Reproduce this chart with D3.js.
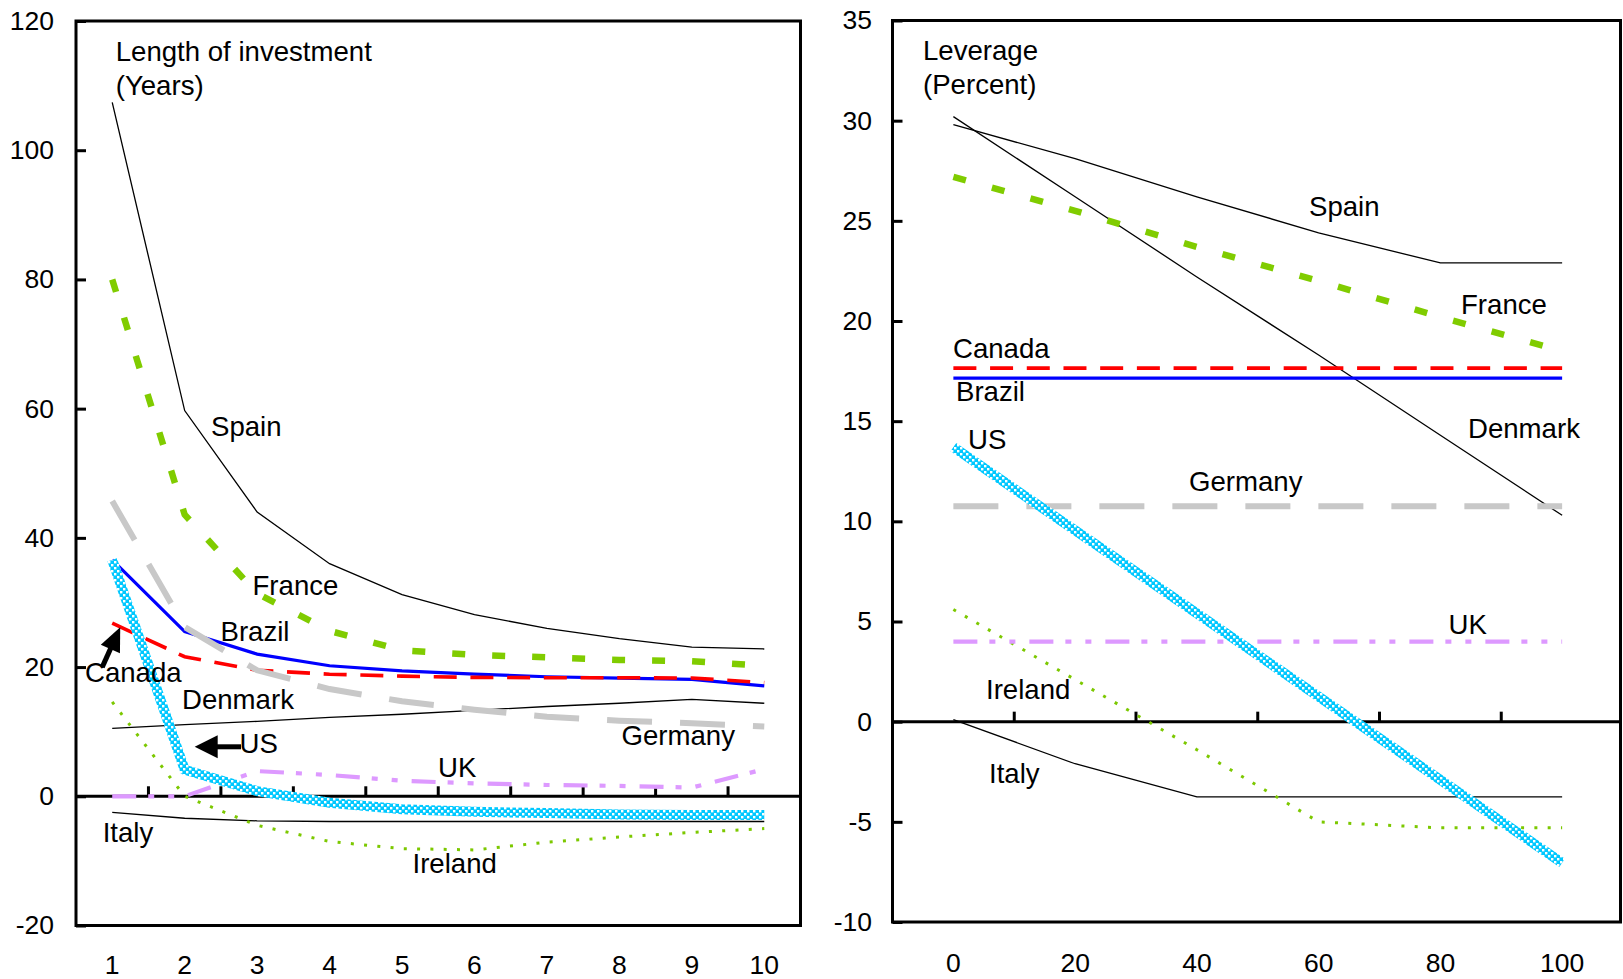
<!DOCTYPE html>
<html><head><meta charset="utf-8">
<script src="https://cdn.jsdelivr.net/npm/d3@7"></script>
<style>
html,body{margin:0;padding:0;background:#fff;}
svg{display:block;font-family:"Liberation Sans",Arial,sans-serif;}
</style></head>
<body>
<svg id="chart" width="1623" height="979"></svg>
<script>
// ---------- DATA ----------
const leftCats = [1,2,3,4,5,6,7,8,9,10];
const leftYTicks = [-20,0,20,40,60,80,100,120];
const leftSpain   = [107.4, 59.7, 44.0, 36.0, 31.2, 28.1, 26.0, 24.4, 23.1, 22.8];
const leftFrance  = [80.0, 43.6, 31.4, 25.6, 22.6, 21.9, 21.5, 21.1, 20.9, 20.2];
const leftGermany = [45.7, 26.2, 19.5, 16.6, 14.7, 13.4, 12.3, 11.7, 11.3, 10.8];
const leftBrazil  = [36.6, 25.5, 22.0, 20.2, 19.4, 18.9, 18.5, 18.3, 18.1, 17.1];
const leftCanada  = [26.8, 21.6, 19.5, 18.9, 18.6, 18.4, 18.35, 18.35, 18.3, 17.6];
const leftDenmark = [10.5, 11.1, 11.6, 12.2, 12.7, 13.3, 13.9, 14.4, 15.0, 14.4];
const leftUS      = [36.6, 4.1, 0.8, -1.0, -2.0, -2.4, -2.6, -2.8, -2.9, -2.9];
const leftUK      = [0, 0, 3.9, 3.3, 2.4, 2.0, 1.75, 1.6, 1.35, 4.2];
const leftIreland = [14.6, 0.0, -4.5, -7.0, -8.1, -8.3, -7.1, -6.3, -5.6, -5.0];
const leftItaly   = [-2.5, -3.4, -3.8, -3.9, -3.9, -3.9, -3.9, -3.9, -3.9, -3.9];

const rightCats = [0,20,40,60,80,100];
const rightYTicks = [-10,-5,0,5,10,15,20,25,30,35];
const rightSpain   = [29.8, 28.1, 26.2, 24.4, 22.9, 22.9];
const rightDenmark = [30.2, 26.2, 22.2, 18.3, 14.3, 10.3];
const rightFrance  = [27.2, 25.5, 23.7, 22.0, 20.2, 18.5];
const rightCanada  = [17.65, 17.65, 17.65, 17.65, 17.65, 17.65];
const rightBrazil  = [17.15, 17.15, 17.15, 17.15, 17.15, 17.15];
const rightUS      = [13.7, 9.55, 5.4, 1.25, -2.9, -7.05];
const rightGermany = [10.75, 10.75, 10.75, 10.75, 10.75, 10.75];
const rightUK      = [4.0, 4.0, 4.0, 4.0, 4.0, 4.0];
const rightIreland = [5.6, 2.1, -1.4, -5.0, -5.3, -5.3];
const rightItaly   = [0.1, -2.1, -3.75, -3.75, -3.75, -3.75];

// ---------- STYLES ----------
const styles = {
  Spain:   {stroke:"#000", w:1.3, dash:null},
  Denmark: {stroke:"#000", w:1.3, dash:null},
  Italy:   {stroke:"#000", w:1.3, dash:null},
  Ireland: {stroke:"#7cc800", w:3, dash:"3,10.3"},
  Brazil:  {stroke:"#0000ff", w:3.2, dash:null},
  Canada:  {stroke:"#ff0000", w:3.6, dash:"23,13.7"},
  Germany: {stroke:"#c8c8c8", w:6, dash:"45,28"},
  France:  {stroke:"#80cc00", w:6.5, dash:"13,27"},
  UK:      {stroke:"#dd99ff", w:4.2, dash:"24,12,6,14,6,14"},
  US:      {stroke:"url(#checker)", w:10, dash:null}
};
const order = ["Denmark","Spain","Italy","Ireland","Brazil","Canada","Germany","France","UK","US"];
const FONT = '"Liberation Sans",Arial,sans-serif';

const svg = d3.select("#chart");
const defs = svg.append("defs");
const pat = defs.append("pattern").attr("id","checker").attr("patternUnits","userSpaceOnUse")
  .attr("width",6).attr("height",6);
pat.append("rect").attr("width",6).attr("height",6).attr("fill","#00c8ff");
pat.append("rect").attr("x",0).attr("y",3).attr("width",2.4).attr("height",2.4).attr("fill","#ffffff");
pat.append("rect").attr("x",3).attr("y",0).attr("width",2.4).attr("height",2.4).attr("fill","#ffffff");

function panel(cfg){
  const g = svg.append("g");
  const x = d3.scaleBand().domain(cfg.cats).range([cfg.left, cfg.bandRight]).padding(0);
  const bw = x.bandwidth();
  const y = d3.scaleLinear().domain(cfg.yDomain).range([cfg.bottom, cfg.top]);
  const cx = c => x(c) + bw/2;

  // y axis (inward ticks)
  const ya = g.append("g").attr("transform",`translate(${cfg.left},0)`)
    .call(d3.axisLeft(y).tickValues(cfg.yTicks).tickSize(-10).tickPadding(cfg.yPad).tickFormat(d => String(d)));
  ya.select(".domain").remove();
  ya.selectAll(".tick line").attr("stroke","#000").attr("stroke-width",3);
  ya.selectAll(".tick text").attr("font-size",26.5).attr("fill","#000").attr("font-family",FONT);

  // x axis labels at bottom
  const xa = g.append("g").attr("transform",`translate(0,${cfg.bottom})`)
    .call(d3.axisBottom(x).tickSize(0).tickPadding(cfg.xPad).tickFormat(d => String(d)));
  xa.select(".domain").remove();
  xa.selectAll(".tick text").attr("font-size",26.5).attr("fill","#000").attr("font-family",FONT);

  // zero line + ticks between categories
  const y0 = y(0);
  g.append("line").attr("x1",cfg.left).attr("x2",cfg.right).attr("y1",y0).attr("y2",y0)
    .attr("stroke","#000").attr("stroke-width",3);
  g.selectAll(".zt").data(cfg.cats.slice(1)).join("line").attr("class","zt")
    .attr("x1",d=>x(d)).attr("x2",d=>x(d)).attr("y1",y0).attr("y2",y0-10)
    .attr("stroke","#000").attr("stroke-width",3);

  // series
  const line = d3.line().x(d=>cx(d[0])).y(d=>y(d[1]));
  order.forEach(name=>{
    const vals = cfg.series[name];
    const s = styles[name];
    g.append("path").datum(cfg.cats.map((c,i)=>[c,vals[i]]))
      .attr("d",line).attr("fill","none").attr("stroke",s.stroke)
      .attr("stroke-width",s.w).attr("stroke-dasharray",s.dash)
      .attr("stroke-linejoin","miter").attr("stroke-linecap","butt");
  });

  // frame
  g.append("rect").attr("x",cfg.left).attr("y",cfg.top).attr("width",cfg.right-cfg.left)
    .attr("height",cfg.bottom-cfg.top).attr("fill","none").attr("stroke","#000").attr("stroke-width",3);

  // labels
  cfg.labels.forEach(l=>{
    g.append("text").attr("x",l[1]).attr("y",l[2]).text(l[0])
      .attr("font-size",27.6).attr("fill","#000").attr("font-family",FONT);
  });
  return {x, y, cx, g};
}

const L = panel({
  cats:leftCats, left:76, right:800.5, bandRight:800.5, top:21, bottom:925.5,
  yDomain:[-20,120], yTicks:leftYTicks, yPad:22, xPad:30,
  series:{Spain:leftSpain,France:leftFrance,Germany:leftGermany,Brazil:leftBrazil,Canada:leftCanada,
          Denmark:leftDenmark,US:leftUS,UK:leftUK,Ireland:leftIreland,Italy:leftItaly},
  labels:[["Length of investment",115.7,60.7],["(Years)",115.7,95],["Spain",211,436],["France",252.5,595],
          ["Brazil",220.5,640.7],["Canada",85,681.7],["Denmark",182,709.3],["US",239.5,753.3],
          ["Germany",621.5,745],["UK",438,777],["Ireland",412.5,873.3],["Italy",102.7,841.7]]
});

const R = panel({
  cats:rightCats, left:892.5, right:1620.5, bandRight:1623, top:20.5, bottom:922,
  yDomain:[-10,35], yTicks:rightYTicks, yPad:20.5, xPad:31.2,
  series:{Spain:rightSpain,France:rightFrance,Germany:rightGermany,Brazil:rightBrazil,Canada:rightCanada,
          Denmark:rightDenmark,US:rightUS,UK:rightUK,Ireland:rightIreland,Italy:rightItaly},
  labels:[["Leverage",923,60],["(Percent)",923,94.3],["Spain",1309,216],["France",1461,314],
          ["Denmark",1468,438.3],["Canada",953,358],["Brazil",956,400.5],["US",968,449.3],
          ["Germany",1189,491],["UK",1448.5,633.5],["Ireland",986,699.3],["Italy",989,783.3]]
});

// ---------- arrows (annotations) ----------
function arrow(tail, tip, headLen, headHalf, shaftW){
  const dx = tip[0]-tail[0], dy = tip[1]-tail[1];
  const len = Math.hypot(dx,dy), ux = dx/len, uy = dy/len;
  const bx = tip[0]-ux*headLen, by = tip[1]-uy*headLen;
  svg.append("line").attr("x1",tail[0]).attr("y1",tail[1]).attr("x2",bx+ux*1).attr("y2",by+uy*1)
    .attr("stroke","#000").attr("stroke-width",shaftW);
  svg.append("path").attr("d",`M${tip[0]},${tip[1]}L${bx-uy*headHalf},${by+ux*headHalf}L${bx+uy*headHalf},${by-ux*headHalf}Z`)
    .attr("fill","#000");
}
// Canada arrow points at the first Canada point
arrow([L.cx(1)-10, L.y(leftCanada[0])+44], [L.cx(1)+8, L.y(leftCanada[0])+4], 24, 10.5, 5);
// US arrow points at the US line near category 2
arrow([241, L.y(leftUS[1])-23], [L.cx(2)+10, L.y(leftUS[1])-23], 23, 11.5, 5);
</script>
</body></html>
